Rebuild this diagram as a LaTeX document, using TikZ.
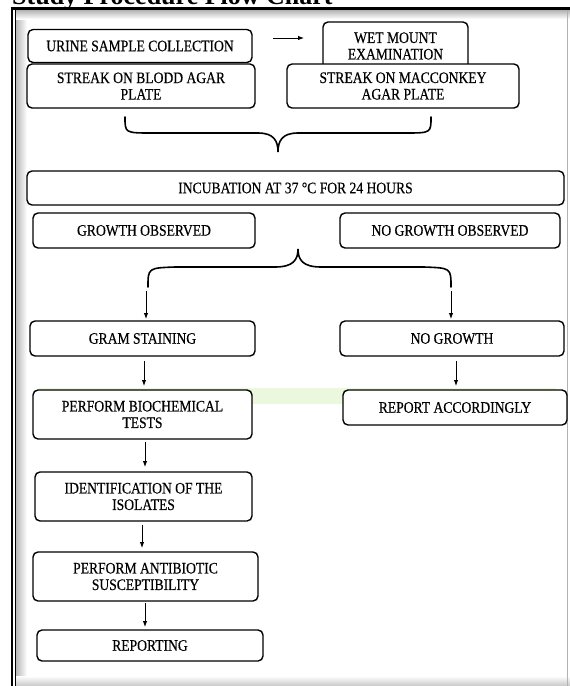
\documentclass[tikz,border=0pt]{standalone}
\usepackage{fontspec}
\setmainfont{Liberation Serif}
\newfontfamily\boxfont[FakeStretch=0.85,FakeBold=0.4]{Liberation Serif}
\usetikzlibrary{arrows.meta}
\definecolor{bandgreen}{RGB}{236,248,222}
\begin{document}
\begin{tikzpicture}[x=1pt,y=-1pt,
  stepbox/.style={draw=black,fill=white,line width=1.4pt,rounded corners=5pt,
    inner sep=0pt,align=center,font=\boxfont\fontsize{16}{16.5}\selectfont},
  arr/.style={line width=0.9pt,-{Latex[length=6pt,width=4.5pt]}},
  bracestyle/.style={line width=1.6pt,line cap=round}]
\useasboundingbox (0,0) rectangle (570,686);
% frame and shadow
\shade[left color=black!30,right color=white] (15,10) rectangle (27,686);
\shade[top color=black!30,bottom color=white] (15,10) rectangle (570,19);
\shade[top color=white,bottom color=black!22] (15,676) rectangle (570,686);
\draw[black!30,line width=1pt] (567,10) -- (567,686);
\draw[line width=2pt] (11.5,8) -- (11.5,686);
\draw[line width=1pt] (15,10) -- (15,686);
\draw[line width=2.2pt] (10.5,8.5) -- (570,8.5);
% title (cut off at top, as in the source)
\node[anchor=base west,inner sep=0pt,font=\bfseries\fontsize{26}{28}\selectfont] (title) at (12,4) {Study Procedure Flow Chart};
% green band
\fill[bandgreen] (38,388) rectangle (556,404);
% boxes
\node[stepbox,minimum width=224,minimum height=33] (urine) at (140,46) {URINE SAMPLE COLLECTION};
\node[stepbox,minimum width=145,minimum height=48] (wet) at (395.5,46) {WET MOUNT\\EXAMINATION};
\node[stepbox,minimum width=228,minimum height=44] (blood) at (141,86) {STREAK ON BLODD AGAR\\PLATE};
\node[stepbox,minimum width=232,minimum height=44] (mac) at (403,86) {STREAK ON MACCONKEY\\AGAR PLATE};
\node[stepbox,minimum width=537,minimum height=34] (incub) at (295.5,188) {INCUBATION AT 37 °C FOR 24 HOURS};
\node[stepbox,minimum width=222,minimum height=35] (growth) at (144,230.5) {GROWTH OBSERVED};
\node[stepbox,minimum width=220,minimum height=35] (nogrowthobs) at (450,230.5) {NO GROWTH OBSERVED};
\node[stepbox,minimum width=225,minimum height=35] (gram) at (142.5,338.5) {GRAM STAINING};
\node[stepbox,minimum width=224,minimum height=35] (nogrowth) at (452,338.5) {NO GROWTH};
\node[stepbox,minimum width=219,minimum height=49] (biochem) at (142.5,414.5) {PERFORM BIOCHEMICAL\\TESTS};
\node[stepbox,minimum width=224,minimum height=35] (report) at (455,407.5) {REPORT ACCORDINGLY};
\node[stepbox,minimum width=217,minimum height=49] (ident) at (143.5,496.5) {IDENTIFICATION OF THE\\ISOLATES};
\node[stepbox,minimum width=225,minimum height=49] (antibio) at (145.5,576.5) {PERFORM ANTIBIOTIC\\SUSCEPTIBILITY};
\node[stepbox,minimum width=226,minimum height=31] (reporting) at (150,645.5) {REPORTING};
% braces
\draw[bracestyle] (125,117) .. controls (125,133) .. (152,133) -- (258,133)
  .. controls (274,133) and (278,141) .. (278,152)
  .. controls (278,141) and (282,133) .. (298,133) -- (405,133)
  .. controls (431,133) .. (431,117);
\draw[bracestyle] (148,287) .. controls (148,268) .. (175,267) -- (275,267)
  .. controls (293,267) and (298,260) .. (298,249)
  .. controls (298,260) and (303,267) .. (321,267) -- (424,267)
  .. controls (451,268) .. (451,287);
% arrow coordinates
\coordinate (a0s) at (273,38); \coordinate (a0e) at (304,38);
\coordinate (a1s) at (146,291); \coordinate (a1e) at (146,319);
\coordinate (a2s) at (451,291); \coordinate (a2e) at (451,319);
\coordinate (a3s) at (144,361); \coordinate (a3e) at (144,386);
\coordinate (a4s) at (456,361); \coordinate (a4e) at (456,386);
\coordinate (a5s) at (145,442); \coordinate (a5e) at (145,467);
\coordinate (a6s) at (142,525); \coordinate (a6e) at (142,548);
\coordinate (a7s) at (145,603); \coordinate (a7e) at (145,627);
\draw[arr] (a0s) -- (a0e);
\draw[arr] (a1s) -- (a1e);
\draw[arr] (a2s) -- (a2e);
\draw[arr] (a3s) -- (a3e);
\draw[arr] (a4s) -- (a4e);
\draw[arr] (a5s) -- (a5e);
\draw[arr] (a6s) -- (a6e);
\draw[arr] (a7s) -- (a7e);
\end{tikzpicture}
\end{document}
